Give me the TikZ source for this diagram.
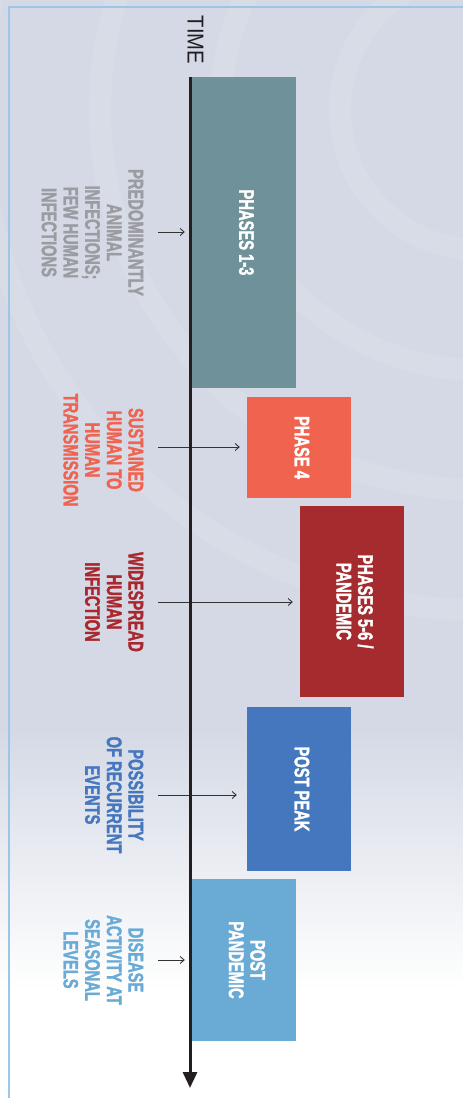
\documentclass[tikz,border=0pt]{standalone}
\usepackage{fontspec}
\usetikzlibrary{arrows.meta}
\newfontfamily\condfont[FakeStretch=0.70,FakeBold=1.6]{Liberation Sans Bold}
\newfontfamily\timefont[FakeStretch=0.88]{Liberation Sans}
\definecolor{bgc}{HTML}{D4D9E5}
\definecolor{framec}{HTML}{9CC6E6}
\definecolor{axisc}{HTML}{231F20}
\definecolor{arrc}{HTML}{333333}
\definecolor{cA}{HTML}{6F9199}
\definecolor{cB}{HTML}{F0634F}
\definecolor{cC}{HTML}{A52B2E}
\definecolor{cD}{HTML}{4577BE}
\definecolor{cE}{HTML}{6AABD6}
\definecolor{tA}{HTML}{9B9CA1}
\definecolor{tB}{HTML}{EF6350}
\definecolor{tC}{HTML}{A8282E}
\definecolor{tD}{HTML}{4677BE}
\definecolor{tE}{HTML}{6AABD6}
\begin{document}
\begin{tikzpicture}[x=1pt,y=-1pt,
  lab/.style={rotate=-90, anchor=north, inner sep=0pt, align=center,
    font={\condfont\fontsize{21}{21.7}\selectfont}},
  boxnode/.style={rotate=-90, inner sep=0pt, minimum height=104pt, align=center,
    text=white, text depth=6pt, font={\condfont\fontsize{21}{21.5}\selectfont}},
  arr/.style={draw=arrc, line width=0.9pt, -{Straight Barb[length=4pt,width=7pt]}},
  axisline/.style={draw=axisc, line width=3pt, -{Triangle[length=16pt,width=14pt]}}]
\useasboundingbox (0,0) rectangle (463,1098);
% background
\fill[bgc] (0,0) rectangle (463,730);
\shade[top color=bgc, bottom color=white] (0,729) rectangle (463,990);
\fill[white] (0,989) rectangle (463,1098);
\begin{scope}
\clip (0,0) rectangle (463,760);
\foreach \r in {140,260,380,500}
  \draw[white, opacity=0.09, line width=22pt] (480,110) circle[radius=\r];
\end{scope}
\draw[framec, line width=1.5pt] (463,7) -- (9,7) -- (9,1098);
% boxes
\node[boxnode, fill=cA, minimum width=311pt, minimum height=105pt] (b1) at (243.5,232.5) {PHASES 1-3};
\node[boxnode, fill=cB, minimum width=101pt] (b2) at (299,447.5) {PHASE 4};
\node[boxnode, fill=cC, minimum width=191pt] (b3) at (352,601.5) {PHASES 5-6 /\\PANDEMIC};
\node[boxnode, fill=cD, minimum width=164pt] (b4) at (299,789) {POST PEAK};
\node[boxnode, fill=cE, minimum width=162pt] (b5) at (244,960) {POST\\PANDEMIC};
% labels
\node[lab, text=tA] (l1) at (143.5,232.5) {PREDOMINANTLY\\ANIMAL\\INFECTIONS;\\FEW HUMAN\\INFECTIONS};
\node[lab, text=tB] (l2) at (143.5,450) {SUSTAINED\\HUMAN TO\\HUMAN\\TRANSMISSION};
\node[lab, text=tC] (l3) at (143.5,602) {WIDESPREAD\\HUMAN\\INFECTION};
\node[lab, text=tD] (l4) at (143.5,795) {POSSIBILITY\\OF RECURRENT\\EVENTS};
\node[lab, text=tE] (l5) at (143.5,960) {DISEASE\\ACTIVITY AT\\SEASONAL\\LEVELS};
% arrows
\coordinate (a1) at (158,232);
\coordinate (a2) at (158,447);
\coordinate (a3) at (158,602);
\coordinate (a4) at (158,795);
\coordinate (a5) at (158,960);
\draw[arr] (a1) -- ([xshift=-6pt]a1 -| b1.south);
\draw[arr] (a2) -- ([xshift=-7pt]a2 -| b2.south);
\draw[arr] (a3) -- ([xshift=-7pt]a3 -| b3.south);
\draw[arr] (a4) -- ([xshift=-10pt]a4 -| b4.south);
\draw[arr] (a5) -- ([xshift=-7pt]a5 -| b5.south);
% time axis
\coordinate (ttop) at (190,77);
\coordinate (tbot) at (190,1088);
\draw[axisline] (ttop) -- (tbot);
\node[rotate=-90, inner sep=0pt, text=axisc, font={\timefont\fontsize{23}{25}\selectfont}] (time) at (195.5,40) {TIME};
\end{tikzpicture}
\end{document}
